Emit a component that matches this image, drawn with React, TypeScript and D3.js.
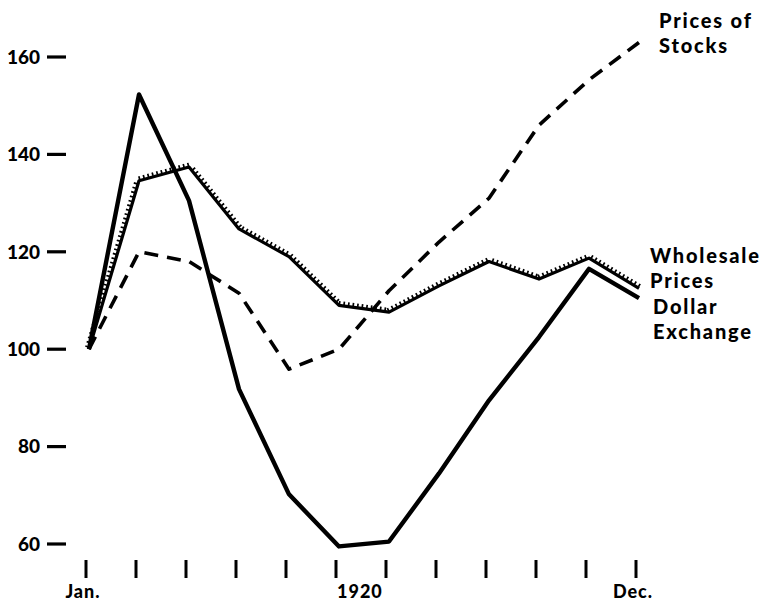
import React from "react";
import * as d3 from "d3";

const months = ["Jan.", "Feb.", "Mar.", "Apr.", "May", "Jun.", "Jul.", "Aug.", "Sep.", "Oct.", "Nov.", "Dec."];
const monthLabels = ["Jan.", "", "", "", "", "1920", "", "", "", "", "", "Dec."];
const yTicks = [60, 80, 100, 120, 140, 160];

const dollarExchange = [100, 152.3, 130.5, 91.8, 70.2, 59.5, 60.5, 74.5, 89.5, 102.5, 116.5, 110.5];
const wholesalePrices = [100, 134.6, 137.4, 124.7, 119, 109, 107.6, 113, 118, 114.4, 118.7, 112.5];
const stockPrices = [100, 120, 118, 111.5, 95.9, 100, 112, 122, 131, 146, 155.3, 163];

const FONT = "Lato, 'Open Sans', sans-serif";

export default function App() {
  const W = 764;
  const H = 603;
  const x = d3.scaleLinear().domain([0, 11]).range([89, 639]);
  const y = d3.scaleLinear().domain([60, 160]).range([544, 57]);

  const line = d3
    .line<number>()
    .x((_, i) => x(i))
    .y((d) => y(d));

  // small ticks on the upper side of wholesale line
  const pts = wholesalePrices.map((d, i) => [x(i), y(d)] as [number, number]);
  const hatch: string[] = [];
  const step = 4.6;
  let carry = 2;
  for (let i = 0; i < pts.length - 1; i++) {
    const [x0, y0] = pts[i];
    const [x1, y1] = pts[i + 1];
    const dx = x1 - x0;
    const dy = y1 - y0;
    const len = Math.hypot(dx, dy);
    const ux = dx / len;
    const uy = dy / len;
    let nx = uy;
    let ny = -ux;
    if (ny > 0) {
      nx = -nx;
      ny = -ny;
    }
    let t = carry;
    while (t < len) {
      const px = x0 + ux * t;
      const py = y0 + uy * t;
      hatch.push(`M${px + nx * 1},${py + ny * 1}L${px + nx * 4.4},${py + ny * 4.4}`);
      t += step;
    }
    carry = t - len;
  }

  return (
    <svg width={W} height={H} style={{ position: "absolute", left: 0, top: 0, background: "#fff" }}>
      <rect width={W} height={H} fill="#fff" />
      {yTicks.map((t) => (
        <g key={t}>
          <text
            x={40}
            y={y(t)}
            dy="0.36em"
            textAnchor="end"
            fontFamily={FONT}
            fontWeight={900}
            fontSize={19}
            fill="#000"
          >
            {t}
          </text>
          <line x1={47} x2={66} y1={y(t)} y2={y(t)} stroke="#000" strokeWidth={3.2} />
        </g>
      ))}
      {months.map((m, i) => (
        <line key={m} x1={x(i) - 3} x2={x(i) - 3} y1={560} y2={578} stroke="#000" strokeWidth={3} />
      ))}
      {monthLabels.map((m, i) =>
        m ? (
          <text
            key={i}
            x={m === "1920" ? x(i) - 2 : x(i) - 6}
            y={598}
            textAnchor={m === "1920" ? "start" : "middle"}
            fontFamily={FONT}
            fontWeight={900}
            fontSize={18}
            letterSpacing={1}
            fill="#000"
          >
            {m}
          </text>
        ) : null
      )}
      <path
        d={line(stockPrices) || ""}
        fill="none"
        stroke="#000"
        strokeWidth={3.6}
        strokeDasharray="14 9"
        strokeLinejoin="round"
      />
      <path d={line(wholesalePrices) || ""} fill="none" stroke="#000" strokeWidth={3.2} strokeLinejoin="round" />
      <path d={hatch.join("")} stroke="#000" strokeWidth={1.7} fill="none" />
      <path
        d={line(dollarExchange) || ""}
        fill="none"
        stroke="#000"
        strokeWidth={4.4}
        strokeLinejoin="round"
      />
      <g fontFamily={FONT} fontWeight={900} fontSize={20} fill="#000" letterSpacing={1.8}>
        <text x={659} y={28}>Prices of</text>
        <text x={659} y={53}>Stocks</text>
        <text x={650} y={263}>Wholesale</text>
        <text x={650} y={288}>Prices</text>
        <text x={653} y={314}>Dollar</text>
        <text x={653} y={339}>Exchange</text>
      </g>
    </svg>
  );
}
